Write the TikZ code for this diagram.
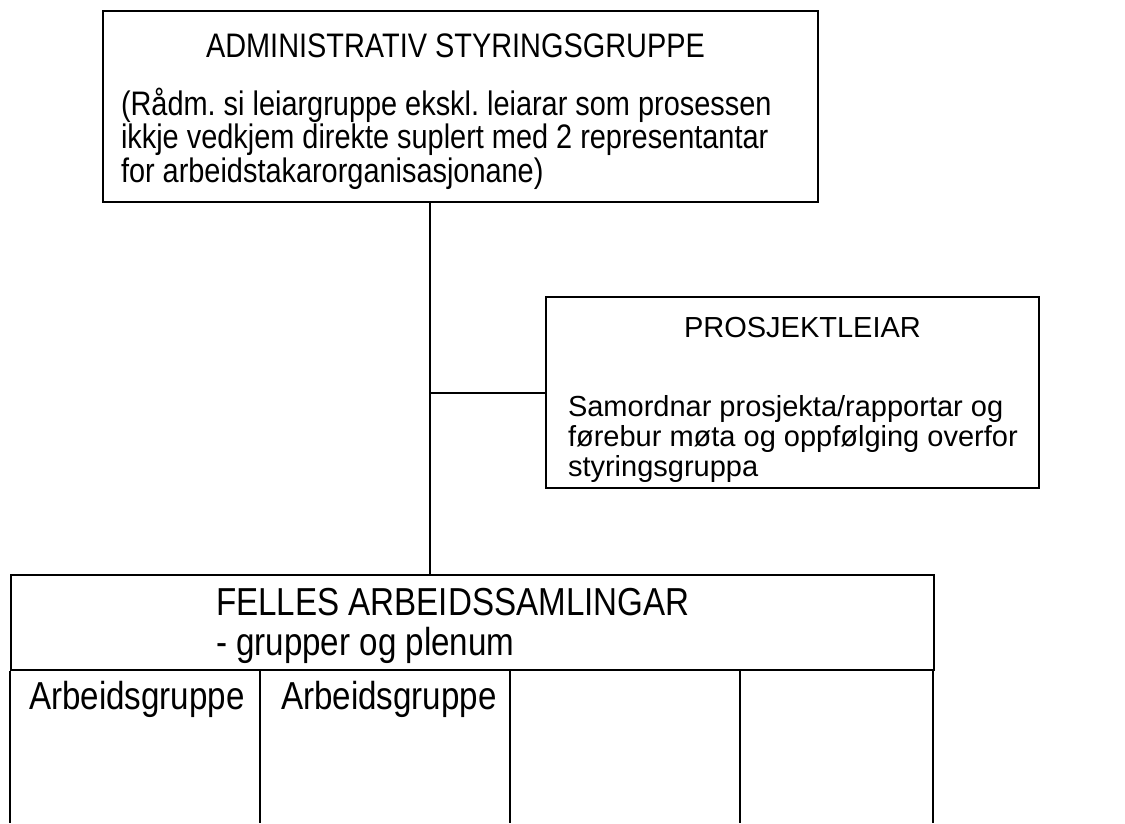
\documentclass[tikz,border=0pt]{standalone}
\usepackage{fontspec}
\setmainfont{Liberation Sans}
\newfontfamily\narrowsans[FakeStretch=0.85]{Liberation Sans}
\begin{document}
\frenchspacing
\begin{tikzpicture}[x=0.4pt,y=-0.4pt, line width=0.8pt,
  boxnode/.style={draw, inner sep=0pt, anchor=north west},
  bodytext/.style={font=\narrowsans\fontsize{13.6}{13.3}\selectfont, align=left, inner sep=0pt, anchor=base west},
  pltext/.style={font=\fontsize{11.6}{12}\selectfont, align=left, inner sep=0pt, anchor=base west},
  bigtext/.style={font=\narrowsans\fontsize{15.6}{15.6}\selectfont, align=left, inner sep=0pt, anchor=base west}]
\useasboundingbox (0,0) rectangle (1125,823);
% top box
\node[boxnode, minimum width=286pt, minimum height=76.4pt] (adm) at (102,10) {};
\node[bodytext] (admtitle) at (205,57) {ADMINISTRATIV STYRINGSGRUPPE};
\node[bodytext] (admbody) at (120,182) {(Rådm. si leiargruppe ekskl. leiarar som prosessen\\ikkje vedkjem direkte suplert med 2 representantar\\for arbeidstakarorganisasjonane)};
% project leader box
\node[boxnode, minimum width=197pt, minimum height=76.4pt] (pl) at (545,296) {};
\node[pltext] (pltitle) at (683,337) {PROSJEKTLEIAR};
\node[pltext] (plbody) at (567,476) {Samordnar prosjekta/rapportar og\\førebur møta og oppfølging overfor\\styringsgruppa};
% bottom
\node[boxnode, minimum width=369pt, minimum height=38pt] (felles) at (10,574) {};
\node[bigtext] (fellestitle) at (215,615) {FELLES ARBEIDSSAMLINGAR};
\node[bigtext] (fellessub) at (215,655) {- grupper og plenum};
\coordinate (c0) at (10,823);
\coordinate (c1) at (260,823);
\coordinate (c2) at (510,823);
\coordinate (c3) at (740,823);
\coordinate (c4) at (932.5,823);
\foreach \c in {c0,c1,c2,c3,c4} \draw (felles.south -| \c) -- (\c);
\node[bigtext] (ag1) at (28,709) {Arbeidsgruppe};
\node[bigtext] (ag2) at (280,709) {Arbeidsgruppe};
% connectors
\coordinate (j) at (430,393);
\draw (adm.south -| j) -- (felles.north -| j);
\draw (j) -- (pl.west |- j);
\end{tikzpicture}
\end{document}
